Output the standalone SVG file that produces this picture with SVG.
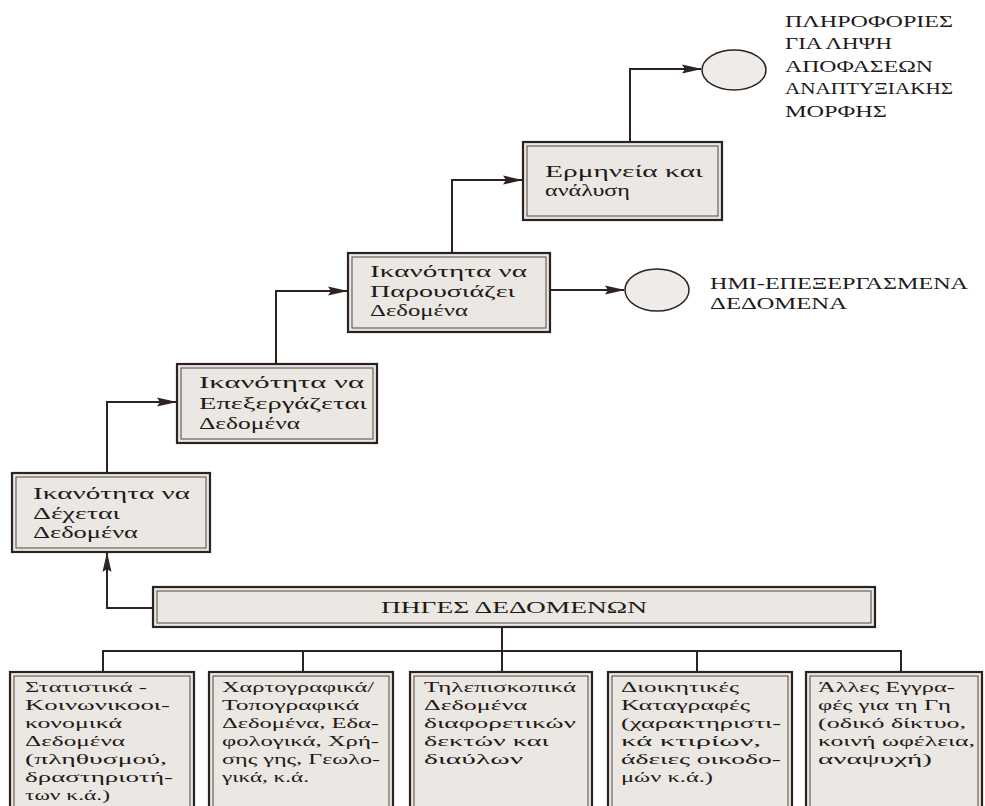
<svg xmlns="http://www.w3.org/2000/svg" width="985" height="806" viewBox="0 0 985 806">
<defs>
<marker id="ah" markerUnits="userSpaceOnUse" markerWidth="20" markerHeight="10" refX="19" refY="5" orient="auto">
<path d="M0,0.5 L20,5 L0,9.5 L3,5 Z" fill="#2d2421"/>
</marker>
</defs>
<style>
.bx{fill:#ebe7e3;stroke:#2a2320;stroke-width:2.2}
.bi{fill:none;stroke:#5e5652;stroke-width:1.1}
.el{fill:#efebe8;stroke:#2a2320;stroke-width:1.5}
.cn{fill:none;stroke:#2d2421;stroke-width:2}
.t{font-family:"Liberation Serif","DejaVu Serif",serif;font-size:16.5px;fill:#1e1a18}
.s{font-family:"Liberation Serif","DejaVu Serif",serif;font-size:15.5px;fill:#1e1a18}
.u{font-family:"Liberation Serif","DejaVu Serif",serif;font-size:17px;fill:#1e1a18}
</style>
<rect width="985" height="806" fill="#ffffff"/>

<g id="connectors">
<path class="cn" d="M153,608 H107 V553" marker-end="url(#ah)"/>
<path class="cn" d="M107,473 V402 H176" marker-end="url(#ah)"/>
<path class="cn" d="M276,364 V291 H347" marker-end="url(#ah)"/>
<path class="cn" d="M452,253 V180 H522" marker-end="url(#ah)"/>
<path class="cn" d="M630,142 V69 H701" marker-end="url(#ah)"/>
<path class="cn" d="M550,290 H624" marker-end="url(#ah)"/>
<path class="cn" d="M502,627 V651"/>
<path class="cn" d="M103,672 V651 H901 V672"/>
<path class="cn" d="M303,651 V672"/>
<path class="cn" d="M502,651 V672"/>
<path class="cn" d="M697,651 V672"/>
</g>

<g id="dexetai">
<rect class="bx" x="12" y="473" width="198" height="79"/>
<rect class="bi" x="16" y="477" width="190" height="71"/>
<text class="t" x="33" y="499" textLength="157" lengthAdjust="spacingAndGlyphs">Ικανότητα να</text>
<text class="t" x="33" y="519" textLength="87" lengthAdjust="spacingAndGlyphs">Δέχεται</text>
<text class="t" x="33" y="538" textLength="105" lengthAdjust="spacingAndGlyphs">Δεδομένα</text>
</g>

<g id="epexergazetai">
<rect class="bx" x="177" y="364" width="200" height="79"/>
<rect class="bi" x="181" y="368" width="192" height="71"/>
<text class="t" x="199" y="388" textLength="165" lengthAdjust="spacingAndGlyphs">Ικανότητα να</text>
<text class="t" x="199" y="409" textLength="168" lengthAdjust="spacingAndGlyphs">Επεξεργάζεται</text>
<text class="t" x="199" y="429" textLength="101" lengthAdjust="spacingAndGlyphs">Δεδομένα</text>
</g>

<g id="parousiazei">
<rect class="bx" x="348" y="253" width="202" height="79"/>
<rect class="bi" x="352" y="257" width="194" height="71"/>
<text class="t" x="370" y="277" textLength="157" lengthAdjust="spacingAndGlyphs">Ικανότητα να</text>
<text class="t" x="370" y="297" textLength="145" lengthAdjust="spacingAndGlyphs">Παρουσιάζει</text>
<text class="t" x="370" y="316" textLength="98" lengthAdjust="spacingAndGlyphs">Δεδομένα</text>
</g>

<g id="ermineia">
<rect class="bx" x="523" y="142" width="199" height="78"/>
<rect class="bi" x="527" y="146" width="191" height="70"/>
<text class="t" x="545" y="177" textLength="158" lengthAdjust="spacingAndGlyphs">Ερμηνεία και</text>
<text class="t" x="545" y="196" textLength="85" lengthAdjust="spacingAndGlyphs">ανάλυση</text>
</g>

<g id="info">
<ellipse class="el" cx="734" cy="70" rx="32" ry="20"/>
<text class="u" x="785" y="27" textLength="168" lengthAdjust="spacingAndGlyphs">ΠΛΗΡΟΦΟΡΙΕΣ</text>
<text class="u" x="785" y="49" textLength="107" lengthAdjust="spacingAndGlyphs">ΓΙΑ ΛΗΨΗ</text>
<text class="u" x="785" y="72" textLength="148" lengthAdjust="spacingAndGlyphs">ΑΠΟΦΑΣΕΩΝ</text>
<text class="u" x="785" y="94" textLength="168" lengthAdjust="spacingAndGlyphs">ΑΝΑΠΤΥΞΙΑΚΗΣ</text>
<text class="u" x="785" y="117" textLength="102" lengthAdjust="spacingAndGlyphs">ΜΟΡΦΗΣ</text>
</g>

<g id="semi">
<ellipse class="el" cx="657" cy="290" rx="32" ry="21"/>
<text class="u" x="710" y="289" textLength="258" lengthAdjust="spacingAndGlyphs">ΗΜΙ-ΕΠΕΞΕΡΓΑΣΜΕΝΑ</text>
<text class="u" x="710" y="309" textLength="137" lengthAdjust="spacingAndGlyphs">ΔΕΔΟΜΕΝΑ</text>
</g>

<g id="piges">
<rect class="bx" x="153" y="587" width="722" height="40"/>
<rect class="bi" x="157" y="591" width="714" height="32"/>
<text class="u" x="381" y="613" textLength="266" lengthAdjust="spacingAndGlyphs">ΠΗΓΕΣ ΔΕΔΟΜΕΝΩΝ</text>
</g>

<g id="statistika">
<rect class="bx" x="10" y="672" width="184" height="145"/>
<rect class="bi" x="14" y="676" width="176" height="137"/>
<text class="s" x="25" y="692" textLength="122" lengthAdjust="spacingAndGlyphs">Στατιστικά -</text>
<text class="s" x="25" y="710" textLength="145" lengthAdjust="spacingAndGlyphs">Κοινωνικοοι-</text>
<text class="s" x="25" y="728" textLength="97" lengthAdjust="spacingAndGlyphs">κονομικά</text>
<text class="s" x="25" y="746" textLength="100" lengthAdjust="spacingAndGlyphs">Δεδομένα</text>
<text class="s" x="25" y="764" textLength="142" lengthAdjust="spacingAndGlyphs">(πληθυσμού,</text>
<text class="s" x="25" y="782" textLength="148" lengthAdjust="spacingAndGlyphs">δραστηριοτή-</text>
<text class="s" x="25" y="800" textLength="85" lengthAdjust="spacingAndGlyphs">των κ.ά.)</text>
</g>

<g id="xartografika">
<rect class="bx" x="209" y="672" width="184" height="145"/>
<rect class="bi" x="213" y="676" width="176" height="137"/>
<text class="s" x="222" y="692" textLength="152" lengthAdjust="spacingAndGlyphs">Χαρτογραφικά/</text>
<text class="s" x="222" y="710" textLength="137" lengthAdjust="spacingAndGlyphs">Τοπογραφικά</text>
<text class="s" x="222" y="728" textLength="157" lengthAdjust="spacingAndGlyphs">Δεδομένα, Εδα-</text>
<text class="s" x="222" y="746" textLength="157" lengthAdjust="spacingAndGlyphs">φολογικά, Χρή-</text>
<text class="s" x="222" y="764" textLength="158" lengthAdjust="spacingAndGlyphs">σης γης, Γεωλο-</text>
<text class="s" x="222" y="782" textLength="87" lengthAdjust="spacingAndGlyphs">γικά, κ.ά.</text>
</g>

<g id="tilepiskopika">
<rect class="bx" x="410" y="672" width="182" height="145"/>
<rect class="bi" x="414" y="676" width="174" height="137"/>
<text class="s" x="424" y="692" textLength="152" lengthAdjust="spacingAndGlyphs">Τηλεπισκοπικά</text>
<text class="s" x="424" y="710" textLength="103" lengthAdjust="spacingAndGlyphs">Δεδομένα</text>
<text class="s" x="424" y="728" textLength="152" lengthAdjust="spacingAndGlyphs">διαφορετικών</text>
<text class="s" x="424" y="746" textLength="125" lengthAdjust="spacingAndGlyphs">δεκτών και</text>
<text class="s" x="424" y="764" textLength="99" lengthAdjust="spacingAndGlyphs">διαύλων</text>
</g>

<g id="dioikitikes">
<rect class="bx" x="608" y="672" width="184" height="145"/>
<rect class="bi" x="612" y="676" width="176" height="137"/>
<text class="s" x="621" y="692" textLength="118" lengthAdjust="spacingAndGlyphs">Διοικητικές</text>
<text class="s" x="621" y="710" textLength="129" lengthAdjust="spacingAndGlyphs">Καταγραφές</text>
<text class="s" x="621" y="728" textLength="160" lengthAdjust="spacingAndGlyphs">(χαρακτηριστι-</text>
<text class="s" x="621" y="746" textLength="140" lengthAdjust="spacingAndGlyphs">κά κτιρίων,</text>
<text class="s" x="621" y="764" textLength="160" lengthAdjust="spacingAndGlyphs">άδειες οικοδο-</text>
<text class="s" x="621" y="782" textLength="92" lengthAdjust="spacingAndGlyphs">μών κ.ά.)</text>
</g>

<g id="alles">
<rect class="bx" x="806" y="672" width="176" height="145"/>
<rect class="bi" x="810" y="676" width="168" height="137"/>
<text class="s" x="818" y="692" textLength="137" lengthAdjust="spacingAndGlyphs">Άλλες Εγγρα-</text>
<text class="s" x="818" y="710" textLength="133" lengthAdjust="spacingAndGlyphs">φές για τη Γη</text>
<text class="s" x="818" y="728" textLength="148" lengthAdjust="spacingAndGlyphs">(οδικό δίκτυο,</text>
<text class="s" x="818" y="746" textLength="157" lengthAdjust="spacingAndGlyphs">κοινή ωφέλεια,</text>
<text class="s" x="818" y="764" textLength="114" lengthAdjust="spacingAndGlyphs">αναψυχή)</text>
</g>
</svg>
